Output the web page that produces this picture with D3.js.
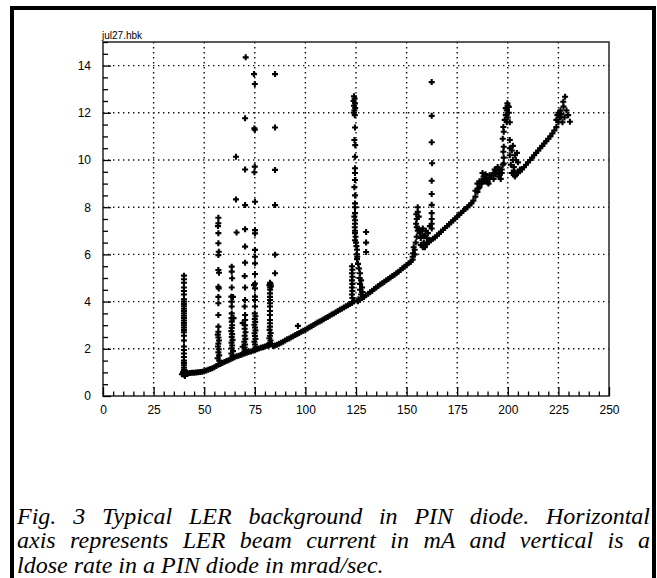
<!DOCTYPE html>
<html lang="en">
<head><title>PIN diode background</title>
<style>
  body { margin: 0; background: #fff; }
  svg { display: block; }
</style>
</head>
<body>
<svg width="657" height="578"></svg>

<script src="https://cdn.jsdelivr.net/npm/d3@7"></script>
<script>
// Beam current (mA) vs PIN diode dose rate (mrad/sec)

var xTicks = [0, 25, 50, 75, 100, 125, 150, 175, 200, 225, 250];
var yTicks = [0, 2, 4, 6, 8, 10, 12, 14];

// main running curve
var baseline = [
  [39,0.92],[40,0.9],[41,0.93],[42,0.95],[43,0.97],[44,0.98],[45,0.99],[46,1.0],[47,1.01],[48,1.02],
  [49,1.03],[50,1.05],[51,1.08],[52,1.11],[53,1.14],[54,1.18],[55,1.22],[56,1.27],[57,1.32],[58,1.36],
  [59,1.4],[60,1.44],[61,1.48],[62,1.52],[63,1.56],[64,1.6],[65,1.64],[66,1.68],[67,1.71],[68,1.74],
  [69,1.77],[70,1.8],[71,1.83],[72,1.86],[73,1.89],[74,1.92],[75,1.95],[76,1.98],[77,2.01],[78,2.04],
  [79,2.07],[80,2.1],[81,2.13],[82,2.16],[83,2.18],[84,2.12],[85,2.14],[86,2.17],[87,2.21],[88,2.26],
  [89,2.3],[90,2.35],[91,2.4],[92,2.44],[93,2.49],[94,2.53],[95,2.58],[96,2.63],[97,2.67],[98,2.72],
  [99,2.76],[100,2.81],[101,2.86],[102,2.91],[103,2.96],[104,3.01],[105,3.06],[106,3.11],[107,3.16],[108,3.2],
  [109,3.25],[110,3.3],[111,3.35],[112,3.4],[113,3.45],[114,3.5],[115,3.55],[116,3.6],[117,3.65],[118,3.7],
  [119,3.75],[120,3.8],[121,3.85],[122,3.9],[123,3.94],[124,4.0],[126,4.02],[127,4.08],[128,4.15],[129,4.2],
  [130,4.27],[131,4.33],[132,4.4],[133,4.46],[134,4.53],[135,4.6],[136,4.66],[137,4.72],[138,4.78],[139,4.84],
  [140,4.9],[141,4.96],[142,5.02],[143,5.08],[144,5.14],[145,5.2],[146,5.27],[147,5.34],[148,5.41],[149,5.48],
  [150,5.55],[151,5.62],[152,5.68],[153,5.78],[154,6.0],[158,6.3],[159,6.35],[160,6.45],[161,6.52],[162,6.6],
  [163,6.66],[164,6.72],[165,6.8],[166,6.88],[167,6.96],[168,7.04],[169,7.12],[170,7.2],[171,7.28],[172,7.36],
  [173,7.44],[174,7.52],[175,7.6],[176,7.68],[177,7.76],[178,7.84],[179,7.92],[180,8.0],[181,8.08],[182,8.16],
  [183,8.28],[184,8.45],[185,8.65],[186,8.85],[187,9.05],[188,9.2],[189,9.1],[190,9.05],[191,9.2],[192,9.35],
  [193,9.45],[194,9.55],[195,9.5],[196,9.4],[197,9.6],[198,9.85],[203,9.4],[204,9.4],[205,9.45],[206,9.52],
  [207,9.6],[208,9.7],[209,9.8],[210,9.9],[211,10.0],[212,10.1],[213,10.2],[214,10.3],[215,10.4],[216,10.5],
  [217,10.6],[218,10.7],[219,10.8],[220,10.9],[221,11.0],[222,11.12],[223,11.25],[224,11.4],[225,11.6],[226,11.8],
  [96.3,2.97],[39.5,1.0],[40.5,0.85],[41.5,1.0],[40,1.05]
];

// vertical bursts
var spike40 = [
  [40,5.1],[40,4.95],[40,4.8],[40,4.6],[40,4.45],[40,4.3],[40,4.1],[40,4.0],[40,3.9],[40,3.8],
  [40,3.7],[40,3.6],[40,3.5],[40,3.4],[40,3.3],[40,3.2],[40,3.1],[40,3.0],[40,2.9],[40,2.8],
  [40,2.7],[40,2.55],[40,2.35],[40,2.1],[40,1.95],[40,1.8],[40,1.65],[40,1.5],[40,1.4],[40,1.3],
  [40,1.2],[40,1.1]
];
var spike57 = [
  [57,7.55],[57,7.32],[56.8,7.2],[57,6.9],[57,6.47],[57.2,6.11],[57,5.97],[57,5.34],[57.3,5.22],[57,4.63],
  [57.2,4.56],[57,4.2],[57,3.93],[57,3.43],[57,2.94],[57,2.72],[56.7,2.6],[57,2.48],[57.3,2.35],[57,2.22],
  [56.8,2.1],[57.2,1.98],[57,1.85],[57.4,1.72],[56.6,1.6],[57.5,1.5]
];
var spike64 = [
  [63.6,5.48],[63.6,5.27],[63.8,4.99],[63.6,4.6],[63.4,4.21],[64.2,4.2],[63.6,4.0],[63.6,3.79],[63.6,3.5],[63.5,3.3],
  [64.5,3.3],[63.6,3.15],[63.8,3.0],[63.6,2.88],[63.4,2.75],[63.8,2.62],[63.6,2.5],[64,2.38],[63.5,2.26],[63.8,2.14],
  [63.6,2.02],[64.2,1.9],[63.4,1.8],[64,1.7],[66,6.93]
];
var spike70 = [
  [70.2,8.09],[70.2,7.07],[70.2,6.33],[70.2,5.65],[70,5.08],[70.2,4.6],[70.2,4.07],[70,3.79],[70.2,3.43],[70.2,3.22],
  [69,3.09],[70.2,3.0],[70,2.85],[70.4,2.7],[70,2.55],[70.3,2.42],[69.8,2.3],[70.2,2.18],[69,2.09],[70,2.05],
  [70.4,1.95],[69.8,1.88]
];
var spike75 = [
  [75.1,8.23],[75.1,7.03],[75.1,6.89],[75.1,6.19],[75.1,5.9],[75.1,5.62],[75.1,5.17],[75.1,4.77],[74.6,4.7],[75.1,4.56],
  [75.1,4.21],[75.1,4.07],[75.1,3.79],[75,3.5],[75.3,3.38],[75,3.26],[75.2,3.14],[74.8,3.02],[75.1,2.9],[75.3,2.78],
  [74.9,2.66],[75.1,2.54],[75.3,2.42],[74.8,2.3],[75.1,2.18],[75.4,2.06]
];
var spike83 = [
  [82.5,4.8],[82.8,4.75],[82.2,4.7],[83,4.65],[82.5,4.6],[82.6,4.5],[82.5,4.35],[82.5,4.2],[82.5,4.07],[82.5,3.93],
  [82.5,3.79],[82.5,3.6],[82.5,3.43],[82.5,3.22],[82.5,3.08],[82.5,2.94],[82.3,2.8],[82.8,2.67],[82.5,2.55],[82.2,2.45],
  [82.8,2.35],[82.5,2.25],[83.2,2.2],[85,5.99],[85,5.2],[85,8.09]
];
// isolated high readings
var outliers = [
  [70.5,14.35],[74.6,13.64],[75,13.22],[70.2,11.77],[74.8,11.34],[75,11.28],[65.7,10.14],[70.2,9.6],[75,9.72],[74.8,9.48],
  [85,13.64],[85,11.38],[85,9.58],[65.7,8.33]
];
var spike125 = [
  [124,12.7],[124.3,12.6],[123.8,12.5],[124.5,12.4],[124,12.3],[124.6,12.2],[124.2,12.1],[123.9,12.0],[124.4,11.9],[124.5,11.38],
  [124.2,10.85],[124.6,10.63],[124.5,10.14],[124.5,9.65],[124.5,9.45],[124.5,9.15],[124.2,8.85],[124.5,8.5],[124.5,8.16],[124.5,8.0],
  [124.5,7.75],[124.2,7.6],[124.5,7.45],[124.5,7.3],[124.4,7.15],[124.5,7.0],[124.5,6.9],[124.8,6.75],[124.5,6.6],[125,6.5],
  [125.2,6.35],[125.5,6.2],[125.5,6.0],[125.6,5.9],[125.5,5.8],[126,5.6],[123,5.5],[123.2,5.35],[123,5.2],[123.2,5.05],
  [123,4.9],[123.2,4.75],[123,4.6],[123.2,4.45],[123,4.3],[123.2,4.15],[126.5,5.4],[127,5.2],[126.8,5.0],[127.5,4.9],
  [127,4.75],[128,4.6],[127,4.5],[128.2,4.4],[127.5,4.3],[128.5,4.2],[126.2,4.1],[130,6.95],[130,6.5],[130,6.1]
];
var spike155 = [
  [153,5.9],[153.2,6.05],[153.5,6.3],[154,6.2],[154.5,6.5],[155,6.75],[155.5,7.0],[155,7.15],[154.7,7.3],[155,7.5],
  [155.5,7.8],[155.5,8.0],[156,7.6],[154.8,7.7],[156,7.1],[156.5,6.9],[157,6.7],[157.5,7.0],[158,7.1],[158,6.8],
  [158.5,6.5],[159,6.8],[159.5,7.0],[160,6.7],[160.5,6.9],[161,6.6],[159,6.3],[157,6.4],[161.5,7.2],
  [162.4,8.1],[162.4,7.75],[162.4,7.5],[162.4,7.3],[162.4,7.1]
];
var spike162 = [
  [162.4,13.3],[162.4,11.87],[162.4,10.75],[162.6,9.86],[162.4,9.12],[162.4,8.56]
];
var spike188 = [
  [187,9.0],[187.5,9.45],[188,9.3],[188.5,9.1],[189,9.4],[189.5,9.25],[190.5,9.0],[191,9.35],[193,9.2],[193.5,9.6],
  [194,9.4],[195,9.7],[195.5,9.3],[196,9.55],[196.5,9.2],[197,9.45],[184,8.7],[185,9.0],[185.5,8.8],[186,9.1]
];
var spike200 = [
  [197.5,9.8],[198,10.1],[197.8,10.35],[198,10.56],[197.5,10.9],[198,11.2],[197.8,11.4],[198.5,11.7],[199,11.9],[199.5,12.1],
  [200,12.3],[199,12.2],[200.5,12.0],[200,11.8],[201,11.6],[199.5,11.6],[200.5,12.25],[199.8,12.4],[201,10.85],[201,10.5],
  [202,10.4],[203.5,10.2],[204,10.0],[202,9.45],[203.5,9.3],[206,9.6],[202.5,10.0],[201.5,9.8],[203,9.7],[204.5,10.3],
  [205,9.9],[201,10.2],[202.5,10.6],[203,9.55]
];
var spike228 = [
  [224,11.7],[224.5,11.9],[225,12.0],[225.8,11.83],[226,12.1],[226.5,11.95],[227.4,12.47],[228.3,12.68],[227.5,12.26],[229,12.1],
  [229.8,11.9],[230.7,11.62],[228,11.8],[227,11.6]
];

var captionLines = [
  "Fig. 3 Typical LER background in PIN diode. Horizontal",
  "axis represents LER beam current in mA and vertical is a",
  "ldose rate in a PIN diode in mrad/sec."
];

var svg = d3.select("svg");

// outer frame
svg.append("rect")
    .attr("x", 12).attr("y", 8).attr("width", 642).attr("height", 640)
    .attr("fill", "none").attr("stroke", "#000").attr("stroke-width", 4);

var x = d3.scaleLinear().domain([0, 250]).range([103, 609]),
    y = d3.scaleLinear().domain([0, 15]).range([396, 42]);

// dotted grid
var grid = svg.append("g")
    .attr("stroke", "#111").attr("stroke-width", 1.4).attr("stroke-dasharray", "1.4,3.6");
grid.selectAll(".gx").data(xTicks.slice(1, -1)).enter().append("line")
    .attr("x1", function(d) { return x(d); }).attr("x2", function(d) { return x(d); })
    .attr("y1", y(15)).attr("y2", y(0));
grid.selectAll(".gy").data(yTicks.slice(1)).enter().append("line")
    .attr("y1", function(d) { return y(d); }).attr("y2", function(d) { return y(d); })
    .attr("x1", x(0)).attr("x2", x(250));

// plot box
svg.append("rect")
    .attr("x", x(0)).attr("y", y(15)).attr("width", x(250) - x(0)).attr("height", y(0) - y(15))
    .attr("fill", "none").attr("stroke", "#333").attr("stroke-width", 1.6);

var font = "'Liberation Sans', Arial, sans-serif";

// y axis, ticks inside
var minorY = d3.range(0, 15.01, 0.5).filter(function(v) { return v % 2 !== 0; });
svg.append("g").attr("transform", "translate(" + x(0) + ",0)")
    .call(d3.axisLeft(y).tickValues(minorY).tickSize(-5).tickFormat(""))
    .call(function(g) { g.select(".domain").remove(); });
svg.append("g").attr("transform", "translate(" + x(0) + ",0)")
    .call(d3.axisLeft(y).tickValues(yTicks).tickSize(-8).tickPadding(12).tickFormat(d3.format("d")))
    .call(function(g) {
        g.select(".domain").remove();
        g.selectAll("text").attr("font-family", font).attr("font-size", 12).attr("fill", "#000");
    });

// x axis, ticks inside
var minorX = d3.range(0, 250.1, 5).filter(function(v) { return v % 25 !== 0; });
svg.append("g").attr("transform", "translate(0," + y(0) + ")")
    .call(d3.axisBottom(x).tickValues(minorX).tickSize(-4.5).tickFormat(""))
    .call(function(g) { g.select(".domain").remove(); });
svg.append("g").attr("transform", "translate(0," + y(0) + ")")
    .call(d3.axisBottom(x).tickValues(xTicks).tickSize(-9).tickPadding(9).tickFormat(d3.format("d")))
    .call(function(g) {
        g.select(".domain").remove();
        g.selectAll("text").attr("font-family", font).attr("font-size", 12).attr("fill", "#000");
    });
svg.selectAll(".tick line").attr("stroke", "#000").attr("stroke-width", 1.3);

svg.append("text")
    .attr("x", 102).attr("y", 39)
    .attr("font-family", font).attr("font-size", 10)
    .text("jul27.hbk");

// markers
var allPoints = [].concat(baseline, spike40, spike57, spike64, spike70, spike75, spike83,
    outliers, spike125, spike155, spike162, spike188, spike200, spike228);
svg.append("g")
    .attr("stroke", "#000").attr("stroke-width", 2.1).attr("fill", "none")
  .selectAll("path").data(allPoints).enter().append("path")
    .attr("transform", function(d) { return "translate(" + x(d[0]) + "," + y(d[1]) + ")"; })
    .attr("d", "M-3,0H3M0,-3V3");

// caption, first two lines justified
var cap = svg.append("g")
    .attr("font-family", "'Liberation Serif', 'Times New Roman', serif")
    .attr("font-style", "italic").attr("font-size", 24);
var left = 17, right = 650;
captionLines.forEach(function(line, i) {
    var t = cap.append("text").attr("x", left).attr("y", 524 + i * 24.3).text(line);
    if (i < 2) {
        var w = t.node().getComputedTextLength();
        var gaps = line.split(" ").length - 1;
        t.attr("word-spacing", (right - left - w) / gaps);
    }
});
</script>
</body>
</html>
